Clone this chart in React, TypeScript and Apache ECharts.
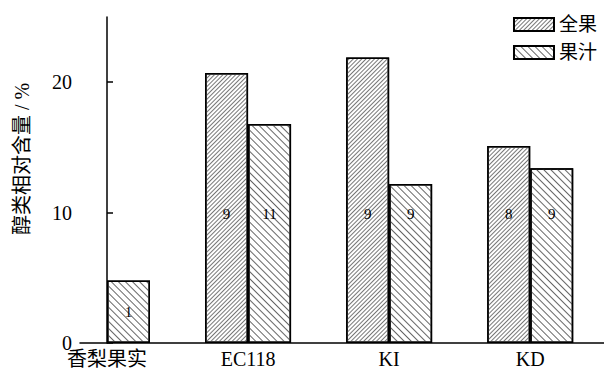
import React, { useEffect, useRef } from 'react';
import * as echarts from 'echarts';

const categories = ['香梨果实', 'EC118', 'KI', 'KD'];
const seriesNames = ['全果', '果汁'];
const wholeFruit: (number | null)[] = [null, 20.7, 21.9, 15.1];
const juice: (number | null)[] = [4.8, 16.8, 12.2, 13.4];
const wholeCounts: (number | null)[] = [null, 9, 9, 8];
const juiceCounts: (number | null)[] = [1, 11, 9, 9];
const yTicks = [0, 10, 20];
const yName = '醇类相对含量 / %';

const SERIF = '"Liberation Serif", "Times New Roman", "Noto Sans CJK SC", serif';

function labelPos(v: number) {
  const c = v > 10 ? 9.9 : v / 2;
  return ['50%', `${(1 - c / v) * 100}%`];
}

function buildData(values: (number | null)[], counts: (number | null)[]) {
  const out: any[] = [];
  values.forEach((v, i) => {
    if (v == null) return;
    out.push({
      value: [i, v],
      label: {
        show: counts[i] != null,
        position: labelPos(v),
        align: 'center',
        verticalAlign: 'middle',
        formatter: String(counts[i]),
      },
    });
  });
  return out;
}

const decalWhole = {
  symbol: 'rect',
  symbolSize: 1,
  color: '#777',
  dashArrayX: [[1, 0]],
  dashArrayY: [1, 2],
  rotation: -Math.PI / 4,
};
const decalJuice = {
  symbol: 'rect',
  symbolSize: 1,
  color: '#666',
  dashArrayX: [[1, 0]],
  dashArrayY: [1, 4],
  rotation: Math.PI / 4,
};

export default function App() {
  const ref = useRef<HTMLDivElement>(null);
  useEffect(() => {
    if (!ref.current) return;
    const chart = echarts.init(ref.current, null, { renderer: 'svg' });
    const labelStyle = { color: '#000', fontFamily: SERIF, fontSize: 15 };
    chart.setOption({
      animation: false,
      backgroundColor: '#fff',
      textStyle: { fontFamily: SERIF, color: '#000' },
      grid: { left: 80, right: 0, top: 17, bottom: 29, containLabel: false },
      legend: {
        orient: 'vertical',
        right: 2,
        top: 10,
        itemWidth: 40,
        itemHeight: 13,
        itemGap: 9,
        icon: 'rect',
        textStyle: { fontFamily: SERIF, fontSize: 19, color: '#000' },
        data: seriesNames,
      },
      xAxis: {
        type: 'value',
        min: -0.1914,
        max: 3.523,
        axisLine: { show: true, lineStyle: { color: '#000', width: 1.5 } },
        axisTick: { show: false },
        splitLine: { show: false },
        axisLabel: {
          customValues: [0, 1, 2, 3],
          formatter: (v: number) => categories[Math.round(v)] ?? '',
          color: '#000',
          fontFamily: SERIF,
          fontSize: 20,
          margin: 6,
        },
      },
      yAxis: {
        type: 'value',
        min: 0,
        max: 25,
        name: yName,
        nameLocation: 'middle',
        nameGap: 48,
        nameTextStyle: { fontFamily: SERIF, fontSize: 20, color: '#000', padding: [0, 0, 0, 42] },
        axisLine: { show: true, lineStyle: { color: '#000', width: 1.5 } },
        axisTick: { show: true, inside: true, length: 6, customValues: yTicks, lineStyle: { color: '#000', width: 1.5 } },
        splitLine: { show: false },
        axisLabel: { customValues: yTicks, color: '#000', fontFamily: SERIF, fontSize: 20, margin: 8 },
      },
      series: [
        {
          name: seriesNames[0],
          type: 'bar',
          barWidth: 43,
          barGap: '0%',
          itemStyle: { color: '#fff', borderColor: '#000', borderWidth: 1.5, decal: decalWhole },
          label: labelStyle,
          data: buildData(wholeFruit, wholeCounts),
        },
        {
          name: seriesNames[1],
          type: 'bar',
          barWidth: 43,
          barGap: '0%',
          itemStyle: { color: '#fff', borderColor: '#000', borderWidth: 1.5, decal: decalJuice },
          label: labelStyle,
          data: buildData(juice, juiceCounts),
        },
      ],
    });
    return () => chart.dispose();
  }, []);
  return <div ref={ref} style={{ position: 'absolute', left: 0, top: 0, width: 604, height: 372 }} />;
}
